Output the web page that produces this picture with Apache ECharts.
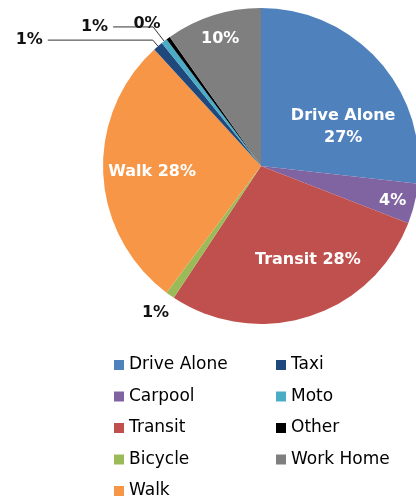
<!DOCTYPE html>
<html>
<head>
<meta charset="utf-8">
<script src="https://cdn.jsdelivr.net/npm/echarts@6/dist/echarts.min.js"></script>
<style>
html, body { margin: 0; padding: 0; background: #fff; }
#main { width: 416px; height: 501px; }
</style>
</head>
<body>
<div id="main"></div>
<script>
var myChart = echarts.init(document.getElementById('main'));

// 出行方式 (clockwise from 12 o'clock)
var modes = ['Drive Alone', 'Carpool', 'Transit', 'Bicycle', 'Walk', 'Taxi', 'Moto', 'Other', 'Work Home'];
var shares = [26.8, 4.1, 28.4, 0.9, 28.0, 1.0, 0.6, 0.4, 9.8];
var colors = ['#4F81BD', '#8064A2', '#C0504D', '#9BBB59', '#F79646', '#1F497D', '#4BACC6', '#000000', '#7F7F7F'];

// which slices show their name in the label
var showName = { 'Drive Alone': '\n', 'Transit': ' ', 'Walk': ' ' };
// nudges for the labels
var labelNudge = [[21, 15], [52, 15], [22, 16], [12, 6], [-27, 2], [0, 0], [0, 0], [8, 0], [-16, -49]];

var insideLabel = {
    position: 'inside',
    color: '#fff',
    fontSize: 16,
    fontWeight: 'bold',
    fontFamily: 'DejaVu Sans',
    lineHeight: 22
};
function outsideLabel(len, len2, line) {
    return {
        label: {
            position: 'outside',
            color: '#111',
            fontSize: 16,
            fontWeight: 'bold',
            fontFamily: 'DejaVu Sans'
        },
        labelLine: {
            show: line,
            length: len,
            length2: len2,
            lineStyle: { color: '#333', width: 1 }
        }
    };
}
var outside = {
    'Bicycle': outsideLabel(14, 0, false),
    'Taxi': outsideLabel(8, 105, true),
    'Moto': outsideLabel(18, 40, true),
    'Other': outsideLabel(18, 0, false)
};

var pieData = [];
for (var i = 0; i < modes.length; i++) {
    var item = {
        name: modes[i],
        value: shares[i],
        itemStyle: { color: colors[i] }
    };
    if (outside[modes[i]]) {
        item.label = outside[modes[i]].label;
        item.labelLine = outside[modes[i]].labelLine;
    }
    pieData.push(item);
}

var legendText = {
    color: '#000',
    fontSize: 17,
    fontFamily: 'DejaVu Sans'
};

option = {
    animation: false,
    legend: [
        {
            orient: 'vertical',
            left: 114,
            top: 356.5,
            padding: 0,
            icon: 'rect',
            itemWidth: 10,
            itemHeight: 10,
            itemGap: 14.5,
            selectedMode: false,
            data: modes.slice(0, 5),
            textStyle: legendText
        },
        {
            orient: 'vertical',
            left: 276,
            top: 356.5,
            padding: 0,
            icon: 'rect',
            itemWidth: 10,
            itemHeight: 10,
            itemGap: 14.5,
            selectedMode: false,
            data: modes.slice(5),
            textStyle: legendText
        }
    ],
    series: [
        {
            type: 'pie',
            center: [261, 166],
            radius: [0, 158],
            startAngle: 90,
            clockwise: true,
            avoidLabelOverlap: false,
            itemStyle: { borderWidth: 0 },
            label: Object.assign({
                formatter: function (p) {
                    var pct = Math.round(p.value) + '%';
                    return showName[p.name] ? p.name + showName[p.name] + pct : pct;
                }
            }, insideLabel),
            labelLine: { show: false },
            labelLayout: function (params) {
                var n = labelNudge[params.dataIndex];
                return { dx: n[0], dy: n[1] };
            },
            emphasis: { disabled: true },
            data: pieData
        }
    ]
};
myChart.setOption(option);
</script>
</body>
</html>
